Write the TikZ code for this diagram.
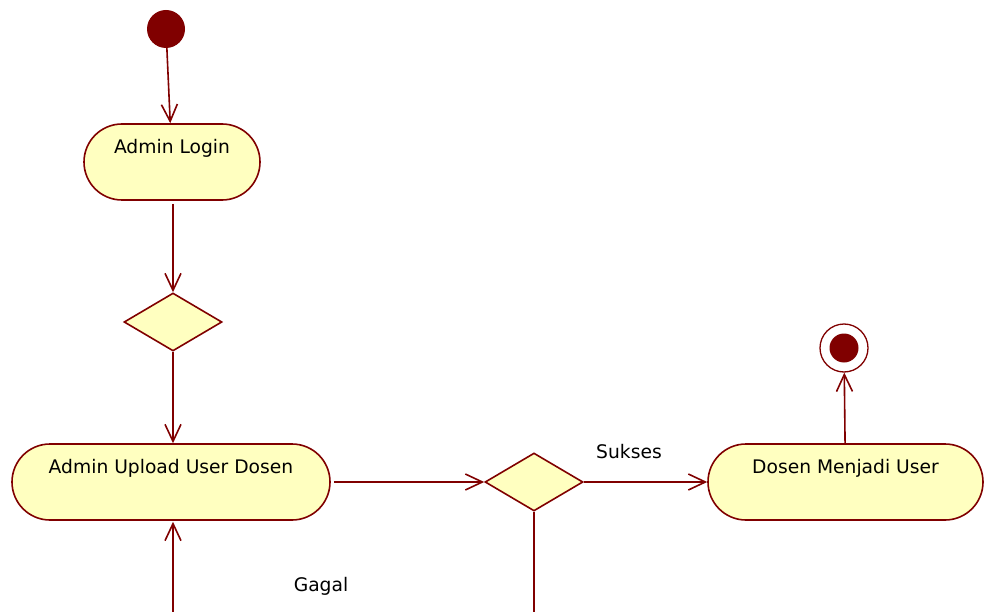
\documentclass[tikz,border=0pt]{standalone}
\usepackage{fontspec}
\setmainfont{DejaVu Sans}
\usetikzlibrary{arrows.meta,shapes.geometric}
\definecolor{umlred}{RGB}{128,0,0}
\definecolor{umlfill}{RGB}{255,255,192}
\tikzset{
  flow/.style={draw=umlred, line width=1.6pt, -{Straight Barb[length=17pt,width=16pt,line width=1.6pt]}},
  plain/.style={draw=umlred, line width=1.6pt},
  action/.style={draw=umlred, fill=umlfill, line width=1.6pt, rectangle,
    rounded corners=38pt, minimum height=76pt, inner sep=0pt},
  decision/.style={draw=umlred, fill=umlfill, line width=1.6pt, diamond,
    minimum width=98pt, minimum height=58pt, inner sep=0pt},
  txt/.style={font=\fontsize{18.7}{22}\selectfont, text=black},
  caption/.style={anchor=base, font=\fontsize{18.7}{22}\selectfont, text=black, yshift=-30pt}
}
\begin{document}
\begin{tikzpicture}[x=1pt, y=-1pt]
  \useasboundingbox (0,0) rectangle (984,612);
  % start and end markers
  \node[circle, fill=umlred, minimum size=38pt, inner sep=0pt] (start) at (166,29) {};
  \node[circle, draw=umlred, fill=white, line width=1.3pt, minimum size=48pt, inner sep=0pt] (stop) at (844,348) {};
  \node[circle, fill=umlred, minimum size=29pt, inner sep=0pt] at (stop) {};
  % activities
  \node[action, minimum width=176pt, label={[caption]north:Admin Login}] (login) at (172,162) {};
  \node[action, minimum width=318pt, label={[caption]north:Admin Upload User Dosen}] (upload) at (171,482) {};
  \node[action, minimum width=275pt, label={[caption]north:Dosen Menjadi User}] (dosen) at (845.5,482) {};
  % decisions
  \node[decision] (d1) at (173,322) {};
  \node[decision] (d2) at (534,482) {};
  % loose ends below the visible area
  \coordinate (d2out) at (534,615);
  \coordinate (backin) at (173,615);
  % transitions
  \draw[flow] (start) -- (login);
  \draw[flow, shorten <=3pt] (login.south -| d1.north) -- (d1.north);
  \draw[flow] (d1.south) -- (upload.north -| d1.south);
  \draw[flow, shorten <=3pt] (upload.east) -- (d2.west);
  \draw[flow] (d2.east) -- (dosen.west);
  \draw[flow] (dosen) -- (stop);
  \draw[plain] (d2.south) -- (d2out);
  \draw[flow, shorten >=1pt] (backin) -- (upload.south -| backin);
  % guard labels
  \node[txt] (sukses) at (629,452) {Sukses};
  \node[txt] (gagal) at (321,586) {Gagal};
\end{tikzpicture}
\end{document}
